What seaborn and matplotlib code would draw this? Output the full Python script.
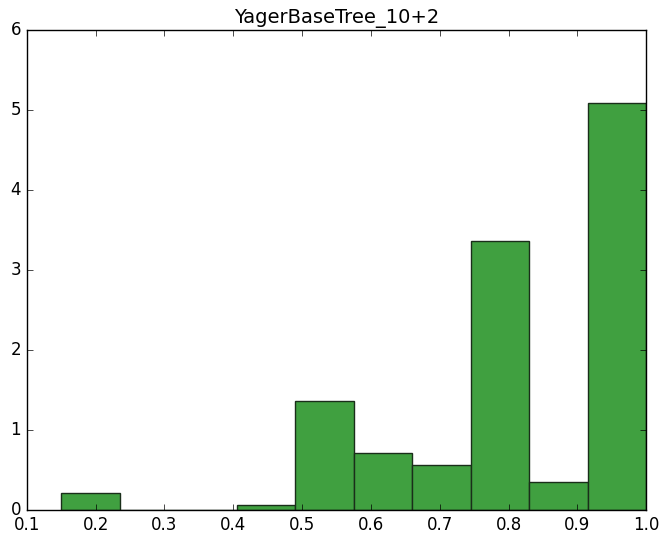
import numpy as np
import pandas as pd
import seaborn as sns
import matplotlib
matplotlib.use('Agg')
import matplotlib.pyplot as plt

# histogram: bin edges and density heights
bin_edges = [0.15, 0.235, 0.32, 0.405, 0.49, 0.575, 0.66, 0.745, 0.83, 0.915, 1.0]
heights = [0.21, 0.0, 0.0, 0.06, 1.36, 0.71, 0.56, 3.36, 0.35, 5.09]

edges = np.array(bin_edges)
df = pd.DataFrame({'valor': (edges[:-1] + edges[1:]) / 2, 'peso': heights})

plt.style.use('classic')
fig = plt.figure(figsize=(6.69, 5.44), dpi=100)
ax = fig.add_axes([0.04, 0.0625, 0.926, 0.8825])

sns.histplot(data=df, x='valor', weights='peso', bins=bin_edges, ax=ax,
             color='#40a040', alpha=1.0, edgecolor='#1a2e1a', linewidth=1.0)

ax.set_xlim(0.1, 1.0)
ax.set_ylim(0, 6)
ax.set_xlabel('')
ax.set_ylabel('')
ax.set_title('YagerBaseTree_10+2', fontsize=14)
ax.tick_params(labelsize=12)

fig.savefig('out.png', dpi=100)
